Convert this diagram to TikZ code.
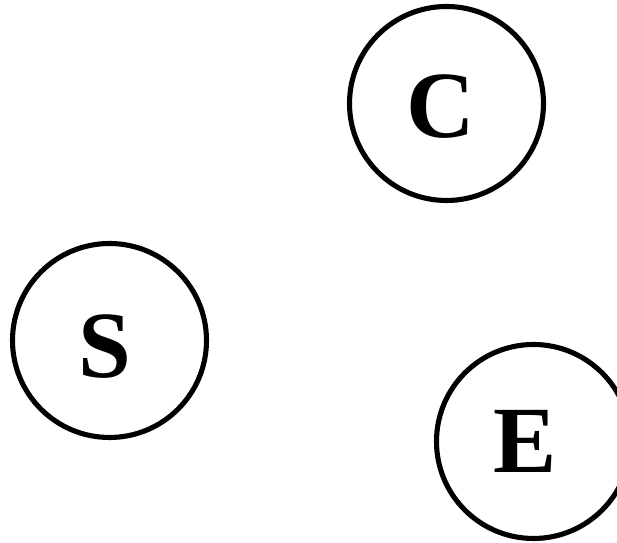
\documentclass[tikz,border=0pt]{standalone}
\usepackage{fontspec}
\setmainfont{Liberation Serif}
\usepackage{tikz}

\begin{document}
\begin{tikzpicture}[
  ring/.style={draw=black,line width=2.9pt,circle,minimum size=3.88cm,inner sep=0pt},
  letter/.style={font=\fontsize{54}{54}\selectfont\bfseries,inner sep=0pt,text depth=0pt},
]
\useasboundingbox (0,0) rectangle (12.34,10.86);

\node[ring] (cring) at (8.93,8.79) {};
\node[letter] (clbl) at (8.81,8.73) {C};
\node[ring] (sring) at (2.19,4.05) {};
\node[letter] (slbl) at (2.09,3.93) {S};
\node[ring] (ering) at (10.67,2.03) {};
\node[letter] (elbl) at (10.50,2.03) {E};
\end{tikzpicture}
\end{document}
